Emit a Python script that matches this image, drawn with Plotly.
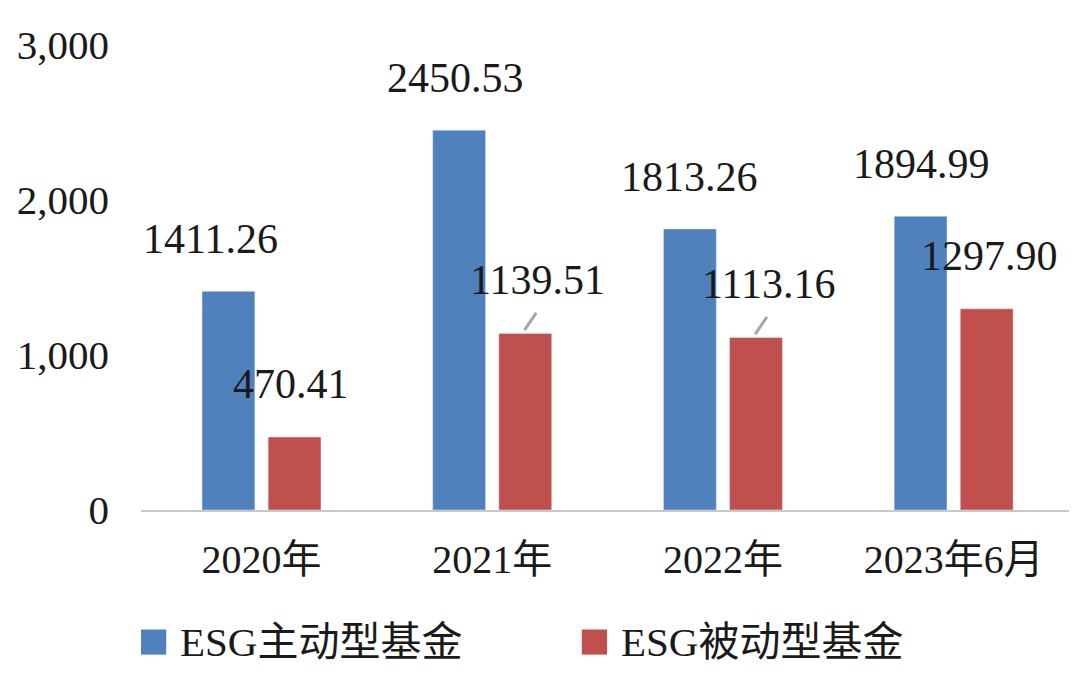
import plotly.graph_objects as go

categories = ["2020年", "2021年", "2022年", "2023年6月"]
active_name = "ESG主动型基金"
passive_name = "ESG被动型基金"
active = [1411.26, 2450.53, 1813.26, 1894.99]
passive = [470.41, 1139.51, 1113.16, 1297.90]

BLUE = "#4F81BD"
RED = "#C0504D"
FONT = "Liberation Serif, Times New Roman, Noto Sans CJK SC, serif"

fig = go.Figure()
fig.add_bar(x=categories, y=active, name=active_name, marker_color=BLUE, showlegend=False)
fig.add_bar(x=categories, y=passive, name=passive_name, marker_color=RED, showlegend=False)

# label offsets (pixels) relative to bar centre, per series
active_dx = [-18, -4, 0, 1]
passive_dx = [-4, 12, 13, 3]
leader = [False, True, True, False]

for i, cat in enumerate(categories):
    fig.add_annotation(x=cat, y=active[i], text=f"{active[i]:.2f}", showarrow=False,
                       xshift=-33 + active_dx[i], yshift=52, yanchor="middle")
    fig.add_annotation(x=cat, y=passive[i], text=f"{passive[i]:.2f}", showarrow=False,
                       xshift=33 + passive_dx[i], yshift=53, yanchor="middle")
    if leader[i]:
        fig.add_annotation(x=cat, y=passive[i], text="", showarrow=True, arrowhead=0,
                           arrowwidth=3, arrowcolor="#A6A6A6", xshift=30,
                           ax=15, ay=-22, standoff=4, axref="pixel", ayref="pixel")

# legend drawn by hand so the keys can be large squares
legend_items = [(active_name, BLUE, 0.0), (passive_name, RED, 0.475)]
for name, color, x0 in legend_items:
    fig.add_shape(type="rect", xref="paper", yref="paper", x0=x0, x1=x0 + 0.0272,
                  y0=-0.311, y1=-0.257, fillcolor=color, line_width=0)
    fig.add_annotation(xref="paper", yref="paper", x=x0 + 0.040, y=-0.284, text=name,
                       showarrow=False, xanchor="left", yanchor="middle",
                       font=dict(size=41))

# page body adds an 8px margin, so the figure is sized to fit inside the window
fig.update_layout(
    width=1072, height=683,
    margin=dict(l=133, r=11, t=37, b=181),
    paper_bgcolor="white", plot_bgcolor="white",
    font=dict(family=FONT, size=42, color="#1a1a1a"),
    bargap=0.427, bargroupgap=0.2,
)
fig.update_xaxes(showline=True, linecolor="#C8C8C8", linewidth=2, ticks="",
                 tickfont=dict(size=40), ticklabelstandoff=13, automargin=False)
fig.update_yaxes(range=[0, 3000], tickvals=[0, 1000, 2000, 3000], tickformat=",",
                 showgrid=False, zeroline=False, showline=False, ticks="",
                 tickfont=dict(size=41), ticklabelstandoff=31, automargin=False)

fig.write_html("out.html")
